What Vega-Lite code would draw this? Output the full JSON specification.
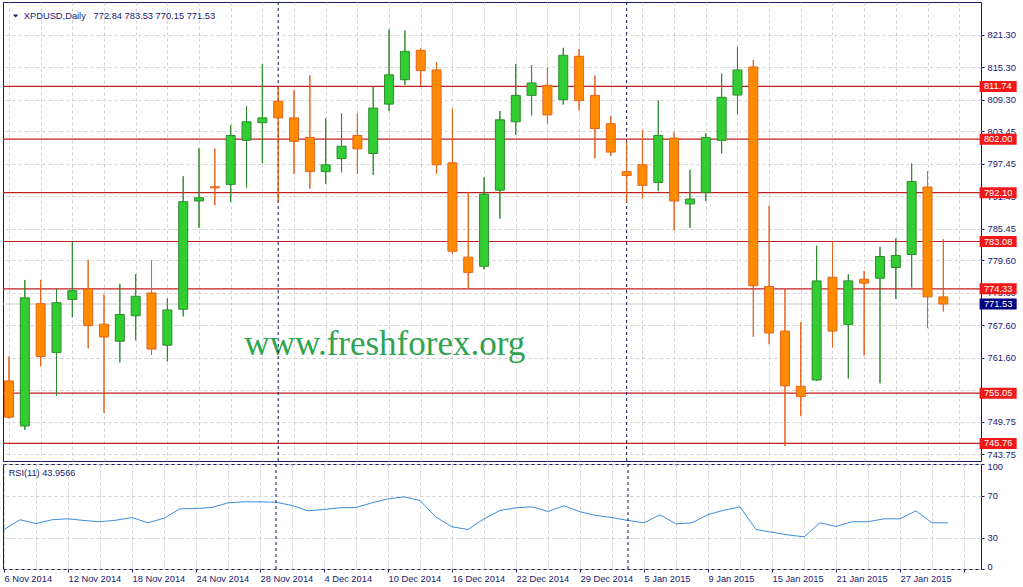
{
  "$schema": "https://vega.github.io/schema/vega-lite/v6.json",
  "background": "white",
  "padding": {"left": 1, "top": 1, "right": 0, "bottom": 0},
  "spacing": 3,
  "bounds": "flush",
  "config": {
    "view": {"stroke": "#1a1a5e", "strokeWidth": 1},
    "axis": {"labelFont": "Liberation Sans", "labelFontSize": 9.3, "labelColor": "#202070", "tickColor": "#202070", "gridColor": "#d0d0d0", "gridDash": [3, 3], "domain": false},
    "text": {"font": "Liberation Sans"}
  },
  "datasets": {
    "ohlc": [
      {"i": 0, "date": "2014-11-06", "open": 757.31, "high": 761.83, "low": 750.4, "close": 750.62, "rsi": 37.6},
      {"i": 1, "date": "2014-11-07", "open": 748.99, "high": 775.98, "low": 748.27, "close": 772.67, "rsi": 46.9},
      {"i": 2, "date": "2014-11-10", "open": 771.59, "high": 775.98, "low": 760.02, "close": 761.83, "rsi": 43.3},
      {"i": 3, "date": "2014-11-11", "open": 762.55, "high": 774.3, "low": 754.6, "close": 771.77, "rsi": 46.9},
      {"i": 4, "date": "2014-11-12", "open": 772.37, "high": 783.09, "low": 769.06, "close": 773.99, "rsi": 47.8},
      {"i": 5, "date": "2014-11-13", "open": 774.3, "high": 779.72, "low": 763.33, "close": 767.54, "rsi": 46.2},
      {"i": 6, "date": "2014-11-14", "open": 767.79, "high": 773.27, "low": 751.4, "close": 765.44, "rsi": 45.0},
      {"i": 7, "date": "2014-11-17", "open": 764.65, "high": 775.26, "low": 760.74, "close": 769.6, "rsi": 46.5},
      {"i": 8, "date": "2014-11-18", "open": 769.35, "high": 777.07, "low": 764.83, "close": 772.96, "rsi": 49.0},
      {"i": 9, "date": "2014-11-19", "open": 773.58, "high": 779.6, "low": 762.1, "close": 763.2, "rsi": 44.0},
      {"i": 10, "date": "2014-11-20", "open": 763.92, "high": 772.55, "low": 760.92, "close": 770.43, "rsi": 48.4},
      {"i": 11, "date": "2014-11-21", "open": 770.56, "high": 795.14, "low": 769.24, "close": 790.44, "rsi": 57.3},
      {"i": 12, "date": "2014-11-24", "open": 790.57, "high": 800.26, "low": 785.62, "close": 791.17, "rsi": 57.6},
      {"i": 13, "date": "2014-11-25", "open": 793.2, "high": 800.26, "low": 789.8, "close": 793.0, "rsi": 58.6},
      {"i": 14, "date": "2014-11-26", "open": 793.64, "high": 804.6, "low": 790.44, "close": 802.68, "rsi": 63.0},
      {"i": 15, "date": "2014-11-27", "open": 801.78, "high": 808.1, "low": 793.03, "close": 805.21, "rsi": 64.0},
      {"i": 16, "date": "2014-11-28", "open": 805.03, "high": 815.88, "low": 797.55, "close": 805.93, "rsi": 64.0},
      {"i": 17, "date": "2014-12-01", "open": 809.01, "high": 811.72, "low": 790.26, "close": 805.93, "rsi": 63.6},
      {"i": 18, "date": "2014-12-02", "open": 805.93, "high": 811.05, "low": 795.56, "close": 801.6, "rsi": 60.5},
      {"i": 19, "date": "2014-12-03", "open": 802.32, "high": 813.76, "low": 792.85, "close": 795.99, "rsi": 55.4},
      {"i": 20, "date": "2014-12-04", "open": 795.99, "high": 805.81, "low": 793.75, "close": 797.26, "rsi": 56.7},
      {"i": 21, "date": "2014-12-05", "open": 798.4, "high": 806.71, "low": 795.87, "close": 800.69, "rsi": 58.3},
      {"i": 22, "date": "2014-12-08", "open": 802.68, "high": 806.71, "low": 795.56, "close": 800.2, "rsi": 58.6},
      {"i": 23, "date": "2014-12-09", "open": 799.35, "high": 811.65, "low": 795.38, "close": 807.74, "rsi": 63.0},
      {"i": 24, "date": "2014-12-10", "open": 808.47, "high": 822.26, "low": 807.2, "close": 813.89, "rsi": 66.8},
      {"i": 25, "date": "2014-12-11", "open": 812.98, "high": 822.08, "low": 812.01, "close": 818.23, "rsi": 68.7},
      {"i": 26, "date": "2014-12-12", "open": 818.41, "high": 818.77, "low": 811.83, "close": 814.67, "rsi": 65.2},
      {"i": 27, "date": "2014-12-15", "open": 814.79, "high": 816.24, "low": 795.56, "close": 797.26, "rsi": 49.4},
      {"i": 28, "date": "2014-12-16", "open": 797.62, "high": 807.62, "low": 780.81, "close": 781.28, "rsi": 40.2},
      {"i": 29, "date": "2014-12-17", "open": 780.19, "high": 792.25, "low": 774.3, "close": 777.37, "rsi": 37.6},
      {"i": 30, "date": "2014-12-18", "open": 778.51, "high": 794.96, "low": 777.92, "close": 791.84, "rsi": 47.8},
      {"i": 31, "date": "2014-12-19", "open": 792.56, "high": 807.2, "low": 787.32, "close": 805.57, "rsi": 55.7},
      {"i": 32, "date": "2014-12-22", "open": 805.21, "high": 815.88, "low": 802.79, "close": 810.09, "rsi": 58.3},
      {"i": 33, "date": "2014-12-23", "open": 810.09, "high": 815.7, "low": 806.4, "close": 812.37, "rsi": 59.2},
      {"i": 34, "date": "2014-12-24", "open": 811.95, "high": 815.26, "low": 804.78, "close": 806.48, "rsi": 54.8},
      {"i": 35, "date": "2014-12-26", "open": 809.3, "high": 818.88, "low": 808.39, "close": 817.5, "rsi": 60.2},
      {"i": 36, "date": "2014-12-29", "open": 817.32, "high": 818.64, "low": 807.31, "close": 809.12, "rsi": 54.5},
      {"i": 37, "date": "2014-12-30", "open": 810.09, "high": 813.76, "low": 798.45, "close": 803.95, "rsi": 51.0},
      {"i": 38, "date": "2014-12-31", "open": 804.85, "high": 806.3, "low": 798.88, "close": 799.61, "rsi": 49.0},
      {"i": 39, "date": "2015-01-02", "open": 795.99, "high": 801.6, "low": 790.26, "close": 795.27, "rsi": 46.2},
      {"i": 40, "date": "2015-01-05", "open": 797.26, "high": 803.69, "low": 791.04, "close": 793.46, "rsi": 44.0},
      {"i": 41, "date": "2015-01-06", "open": 794.0, "high": 809.12, "low": 792.43, "close": 802.68, "rsi": 51.6},
      {"i": 42, "date": "2015-01-07", "open": 802.19, "high": 803.28, "low": 785.15, "close": 790.57, "rsi": 43.0},
      {"i": 43, "date": "2015-01-08", "open": 790.03, "high": 796.35, "low": 785.62, "close": 790.93, "rsi": 44.0},
      {"i": 44, "date": "2015-01-09", "open": 792.12, "high": 803.1, "low": 790.57, "close": 802.32, "rsi": 51.9},
      {"i": 45, "date": "2015-01-12", "open": 801.78, "high": 814.12, "low": 799.35, "close": 809.73, "rsi": 56.0},
      {"i": 46, "date": "2015-01-13", "open": 810.15, "high": 819.0, "low": 806.59, "close": 814.79, "rsi": 59.2},
      {"i": 47, "date": "2015-01-14", "open": 815.33, "high": 816.65, "low": 765.44, "close": 774.9, "rsi": 37.6},
      {"i": 48, "date": "2015-01-15", "open": 774.77, "high": 789.72, "low": 764.1, "close": 766.17, "rsi": 35.0},
      {"i": 49, "date": "2015-01-16", "open": 766.53, "high": 774.3, "low": 745.3, "close": 756.4, "rsi": 32.5},
      {"i": 50, "date": "2015-01-19", "open": 756.33, "high": 768.15, "low": 750.8, "close": 754.42, "rsi": 30.6},
      {"i": 51, "date": "2015-01-20", "open": 757.49, "high": 782.31, "low": 757.3, "close": 775.8, "rsi": 44.0},
      {"i": 52, "date": "2015-01-21", "open": 776.47, "high": 783.09, "low": 763.51, "close": 766.53, "rsi": 40.5},
      {"i": 53, "date": "2015-01-22", "open": 767.72, "high": 777.07, "low": 757.78, "close": 775.8, "rsi": 45.0},
      {"i": 54, "date": "2015-01-23", "open": 776.11, "high": 777.61, "low": 762.01, "close": 775.39, "rsi": 45.0},
      {"i": 55, "date": "2015-01-26", "open": 776.29, "high": 782.13, "low": 756.87, "close": 780.32, "rsi": 47.8},
      {"i": 56, "date": "2015-01-27", "open": 778.28, "high": 783.63, "low": 772.49, "close": 780.5, "rsi": 47.8},
      {"i": 57, "date": "2015-01-28", "open": 780.68, "high": 797.49, "low": 774.59, "close": 794.19, "rsi": 55.4},
      {"i": 58, "date": "2015-01-29", "open": 793.15, "high": 796.05, "low": 767.07, "close": 772.85, "rsi": 44.0},
      {"i": 59, "date": "2015-01-30", "open": 772.84, "high": 783.53, "low": 770.15, "close": 771.53, "rsi": 43.9566}
    ],
    "levels": [
      {"level": 811.74}, {"level": 802.0}, {"level": 792.1}, {"level": 783.08},
      {"level": 774.33}, {"level": 755.05}, {"level": 745.76}
    ]
  },
  "vconcat": [
    {
      "width": 978,
      "height": 459,
      "resolve": {"axis": {"x": "independent", "y": "independent"}},
      "layer": [
        {
          "data": {"name": "ohlc"},
          "mark": {"type": "rule", "strokeWidth": 1, "clip": true},
          "encoding": {
            "x": {"field": "i", "type": "quantitative", "scale": {"domain": [-0.0625, 61.0625], "nice": false, "zero": false},
                  "axis": {"values": [0,2,4,6,8,10,12,14,16,18,20,22,24,26,28,30,32,34,36,38,40,42,44,46,48,50,52,54,56,58,60], "grid": true, "labels": false, "ticks": false, "title": null}},
            "y": {"field": "low", "type": "quantitative", "scale": {"domain": [743.44, 826.42], "nice": false, "zero": false},
                  "axis": {"orient": "right", "values": [743.75, 749.75, 755.6, 761.6, 767.6, 773.6, 779.6, 785.45, 791.45, 797.45, 803.45, 809.3, 815.3, 821.3], "format": ".2f",
                           "grid": true, "tickSize": 3, "labelPadding": 3, "labelOverlap": false, "labelFlush": false, "labelBound": false, "title": null}},
            "y2": {"field": "high"},
            "color": {"condition": {"test": "datum.close >= datum.open", "value": "#2e8b2e"}, "value": "#e4641c"}
          }
        },
        {
          "data": {"values": [{"t": "www.freshforex.org"}]},
          "mark": {"type": "text", "font": "Liberation Serif", "fontSize": 35, "color": "#2ea44f", "align": "center", "baseline": "alphabetic"},
          "encoding": {
            "x": {"datum": 23.73, "type": "quantitative", "axis": null},
            "y": {"datum": 762.12, "type": "quantitative", "axis": null},
            "text": {"field": "t"}
          }
        },
        {
          "data": {"name": "levels"},
          "mark": {"type": "rule", "color": "#c41e1e", "strokeWidth": 1.2},
          "encoding": {"y": {"field": "level", "type": "quantitative", "axis": null}}
        },
        {
          "data": {"values": [{"bid": 771.53}]},
          "mark": {"type": "rule", "color": "#c8c8c8", "strokeWidth": 1},
          "encoding": {"y": {"field": "bid", "type": "quantitative", "axis": null}}
        },
        {
          "data": {"name": "ohlc"},
          "transform": [{"filter": "datum.date == '2014-12-01' || datum.date == '2015-01-02'"}],
          "mark": {"type": "rule", "color": "#14145a", "strokeDash": [3, 3], "strokeWidth": 1},
          "encoding": {"x": {"field": "i", "type": "quantitative", "axis": null}}
        },
        {
          "data": {"name": "ohlc"},
          "mark": {"type": "rule", "strokeWidth": 1, "clip": true},
          "encoding": {
            "x": {"field": "i", "type": "quantitative", "axis": null},
            "y": {"field": "low", "type": "quantitative", "axis": null},
            "y2": {"field": "high"},
            "color": {"condition": {"test": "datum.close >= datum.open", "value": "#2e8b2e"}, "value": "#e4641c"}
          }
        },
        {
          "data": {"name": "ohlc"},
          "mark": {"type": "bar", "orient": "vertical", "width": 9, "strokeWidth": 1, "clip": true},
          "encoding": {
            "x": {"field": "i", "type": "quantitative", "axis": null},
            "y": {"field": "open", "type": "quantitative", "axis": null},
            "y2": {"field": "close"},
            "fill": {"condition": {"test": "datum.close >= datum.open", "value": "#32cd32"}, "value": "#ff8c00"},
            "stroke": {"condition": {"test": "datum.close >= datum.open", "value": "#2e8b2e"}, "value": "#e4641c"}
          }
        },
        {
          "data": {"name": "levels"},
          "mark": {"type": "bar", "orient": "horizontal", "height": 11, "color": "#f01818"},
          "encoding": {
            "x": {"datum": 61.29, "type": "quantitative", "axis": null},
            "x2": {"datum": 63.63},
            "y": {"field": "level", "type": "quantitative", "axis": null}
          }
        },
        {
          "data": {"name": "levels"},
          "mark": {"type": "text", "color": "white", "fontSize": 9.3, "align": "left", "baseline": "middle"},
          "encoding": {
            "x": {"datum": 61.56, "type": "quantitative", "axis": null},
            "y": {"field": "level", "type": "quantitative", "axis": null},
            "text": {"field": "level", "type": "quantitative", "format": ".2f"}
          }
        },
        {
          "data": {"values": [{"bid": 771.53}]},
          "mark": {"type": "bar", "orient": "horizontal", "height": 11, "color": "#000080"},
          "encoding": {
            "x": {"datum": 61.29, "type": "quantitative", "axis": null},
            "x2": {"datum": 63.63},
            "y": {"field": "bid", "type": "quantitative", "axis": null}
          }
        },
        {
          "data": {"values": [{"bid": 771.53}]},
          "mark": {"type": "text", "color": "white", "fontSize": 9.3, "align": "left", "baseline": "middle"},
          "encoding": {
            "x": {"datum": 61.56, "type": "quantitative", "axis": null},
            "y": {"field": "bid", "type": "quantitative", "axis": null},
            "text": {"field": "bid", "type": "quantitative", "format": ".2f"}
          }
        },
        {
          "data": {"values": [{"s": "XPDUSD"}]},
          "mark": {"type": "point", "shape": "M-1,-0.55L1,-0.55L0,0.55Z", "size": 30, "filled": true, "color": "#202070", "opacity": 1},
          "encoding": {
            "x": {"datum": 0.42, "type": "quantitative", "axis": null},
            "y": {"datum": 824.75, "type": "quantitative", "axis": null}
          }
        },
        {
          "data": {"values": [{"t": "XPDUSD,Daily\u00a0\u00a0 772.84 783.53 770.15 771.53"}]},
          "mark": {"type": "text", "color": "#202070", "fontSize": 9.3, "align": "left", "baseline": "middle"},
          "encoding": {
            "x": {"datum": 0.9375, "type": "quantitative", "axis": null},
            "y": {"datum": 824.84, "type": "quantitative", "axis": null},
            "text": {"field": "t"}
          }
        }
      ]
    },
    {
      "width": 978,
      "height": 105,
      "resolve": {"axis": {"x": "independent", "y": "independent"}},
      "layer": [
        {
          "data": {"name": "ohlc"},
          "mark": {"type": "line", "color": "#3a8fdc", "strokeWidth": 1},
          "encoding": {
            "x": {"field": "i", "type": "quantitative", "scale": {"domain": [-0.0625, 61.0625], "nice": false, "zero": false},
                  "axis": {"values": [0,2,4,6,8,10,12,14,16,18,20,22,24,26,28,30,32,34,36,38,40,42,44,46,48,50,52,54,56,58,60], "grid": true, "title": null,
                           "tickSize": 3, "tickOpacity": {"condition": {"test": "datum.value % 4 == 0", "value": 1}, "value": 0},
                           "labelAlign": "left", "labelBaseline": "top", "labelPadding": 2, "labelFlush": false, "labelOverlap": false, "labelBound": false,
                           "labelExpr": "datum.value % 4 == 0 ? ['6 Nov 2014','12 Nov 2014','18 Nov 2014','24 Nov 2014','28 Nov 2014','4 Dec 2014','10 Dec 2014','16 Dec 2014','22 Dec 2014','29 Dec 2014','5 Jan 2015','9 Jan 2015','15 Jan 2015','21 Jan 2015','27 Jan 2015','',''][datum.value / 4] : ''"}},
            "y": {"field": "rsi", "type": "quantitative", "scale": {"domain": [0, 100], "nice": false, "zero": false},
                  "axis": {"orient": "right", "values": [0, 30, 70, 100], "grid": true, "tickSize": 3, "labelPadding": 3, "labelOverlap": false, "labelFlush": true, "labelFlushOffset": 2, "title": null}}
          }
        },
        {
          "data": {"name": "ohlc"},
          "transform": [{"filter": "datum.date == '2014-12-01' || datum.date == '2015-01-02'"}],
          "mark": {"type": "rule", "color": "#14145a", "strokeDash": [3, 3], "strokeWidth": 1},
          "encoding": {"x": {"field": "i", "type": "quantitative", "axis": null}}
        },
        {
          "data": {"values": [{"t": "RSI(11) 43.9566"}]},
          "mark": {"type": "text", "color": "#202070", "fontSize": 9.2, "align": "left", "baseline": "middle"},
          "encoding": {
            "x": {"datum": 0.29, "type": "quantitative", "axis": null},
            "y": {"datum": 91.4, "type": "quantitative", "axis": null},
            "text": {"field": "t"}
          }
        }
      ]
    }
  ]
}
